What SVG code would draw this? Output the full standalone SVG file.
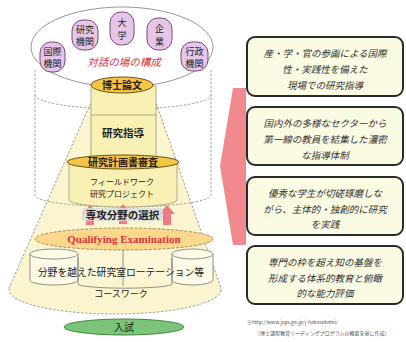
<svg xmlns="http://www.w3.org/2000/svg" width="406" height="342" viewBox="0 0 406 342">
<style>
.jp{font-family:"Noto Sans CJK JP","Noto Sans CJK SC",sans-serif;text-anchor:middle;fill:#222}
.dash{fill:none;stroke:#8a8a8a;stroke-width:0.8;stroke-dasharray:2.5 1.5}
.org{fill:#e6c6e6;stroke:#7a4a7a;stroke-width:1}
.gold{fill:#f4c445;stroke:#6a5418;stroke-width:1}
.box{fill:#fbfbe4;stroke:#2a2a2a;stroke-width:2}
.bt{font-family:"Noto Sans CJK JP",sans-serif;font-size:9.5px;font-style:italic;text-anchor:middle;fill:#333}
.yel{fill:#fbf5cf}
.col{fill:#f9f0b4;stroke:#9a9a7a;stroke-width:0.8}
.arr{fill:#f07a84}
</style>
<rect width="406" height="342" fill="#ffffff"/>

<!-- cone base -->
<g id="coursework">
<ellipse cx="115" cy="290" rx="106" ry="24" class="yel" stroke="#8a8a8a" stroke-width="0.8" stroke-dasharray="2.5 1.5"/>
<path d="M92 100 L155 100 L221 288 L9 288 Z" class="yel"/>
<path d="M92 100 L9 288 M155 100 L221 288" class="dash"/>
</g>

<!-- outer cylinder -->
<g id="cylinder">
<path d="M35 70 L35 195 A88 12 0 0 0 211 195 L211 70" class="dash"/>
<path d="M35 95 A88 14 0 0 0 211 95" class="dash"/>
</g>

<!-- top ellipse with organisations -->
<g id="dialogue">
<ellipse cx="122" cy="47" rx="91" ry="40" fill="#ffffff" stroke="#8a8a8a" stroke-width="0.9"/>
<text x="124" y="66" class="jp" style="font-size:10.5px;font-style:italic;fill:#e0303a">対話の場の構成</text>
</g>
<g id="org-kokusai"><rect x="40" y="42" width="25" height="30" rx="11" class="org"/><text x="52.5" y="55" class="jp" font-size="9">国際</text><text x="52.5" y="67" class="jp" font-size="9">機関</text></g>
<g id="org-kenkyu"><rect x="72" y="20" width="26" height="30" rx="11" class="org"/><text x="85" y="33" class="jp" font-size="9">研究</text><text x="85" y="45" class="jp" font-size="9">機関</text></g>
<g id="org-daigaku"><rect x="110" y="12" width="24" height="33" rx="11" class="org"/><text x="122" y="26" class="jp" font-size="9">大</text><text x="122" y="39" class="jp" font-size="9">学</text></g>
<g id="org-kigyo"><rect x="147" y="18" width="25" height="32" rx="11" class="org"/><text x="159.5" y="32" class="jp" font-size="9">企</text><text x="159.5" y="45" class="jp" font-size="9">業</text></g>
<g id="org-gyosei"><rect x="181" y="42" width="27" height="29" rx="11" class="org"/><text x="194.5" y="55" class="jp" font-size="9">行政</text><text x="194.5" y="67" class="jp" font-size="9">機関</text></g>

<!-- central column -->
<g id="shido">
<rect x="91" y="86" width="65" height="76" class="col"/>
<line x1="91" y1="115" x2="156" y2="115" stroke="#9a9a7a" stroke-width="0.8"/>
<text x="123" y="137" class="jp" font-size="10.5" font-weight="bold">研究指導</text>
</g>
<g id="fieldwork">
<path d="M69 162 L69 200 A54 7 0 0 0 177 200 L177 162 Z" class="col"/>
<text x="122" y="185" class="jp" font-size="8">フィールドワーク</text>
<text x="122" y="197" class="jp" font-size="8">研究プロジェクト</text>
</g>
<g id="hakase">
<ellipse cx="122" cy="85" rx="31" ry="8" class="gold"/>
<text x="122" y="89" class="jp" font-size="10" font-weight="bold">博士論文</text>
</g>
<g id="keikaku">
<ellipse cx="123" cy="162" rx="56" ry="7" class="gold"/>
<text x="123" y="166" class="jp" font-size="10" font-weight="bold">研究計画書審査</text>
</g>

<!-- arrows up -->
<g id="connectors">
<path d="M86 225 L86 214 L82 214 L90 205 L98 214 L94 214 L94 225 Z" class="arr"/>
<path d="M119 224 L119 213 L115 213 L123 204 L131 213 L127 213 L127 224 Z" class="arr"/>
<path d="M163 225 L163 214 L159 214 L167 205 L175 214 L171 214 L171 225 Z" class="arr"/>
<path d="M233 88 L246 88 L246 245 L233 245 L220 166 Z" fill="#f08a8e"/>
</g>
<g id="senko">
<rect x="82" y="208" width="81" height="13" fill="#dcdcdc" opacity="0.85"/>
<text x="122.5" y="218.5" class="jp" font-size="10.5" font-weight="bold">専攻分野の選択</text>
</g>

<!-- rotation band -->
<g id="rotation">
<rect x="30" y="250" width="183" height="32" fill="#fbf6d6"/>
<path d="M30 254 L30 280 A24 5 0 0 0 78 280 L78 254" fill="#fdfae6" stroke="#777" stroke-width="0.8"/>
<ellipse cx="54" cy="254" rx="24" ry="5" fill="#fdfae6" stroke="#777" stroke-width="0.8"/>
<path d="M172 254 L172 280 A20.5 5 0 0 0 213 280 L213 254" fill="#fdfae6" stroke="#777" stroke-width="0.8"/>
<ellipse cx="192.5" cy="254" rx="20.5" ry="5" fill="#fdfae6" stroke="#777" stroke-width="0.8"/>
<path d="M78 258 L78 284 M123 245 L123 286 M172 258 L172 284 M78 284 A45 4 0 0 0 172 284" fill="none" stroke="#777" stroke-width="0.8"/>
<text x="121" y="276" class="jp" font-size="9.8">分野を越えた研究室ローテーション等</text>
</g>
<g id="qe">
<ellipse cx="124" cy="239" rx="89" ry="11" fill="#fbd88c" stroke="#8a7a4a" stroke-width="0.8" stroke-dasharray="3 1.5"/>
<text x="124" y="243" font-family="Liberation Serif,serif" font-size="11" font-weight="bold" text-anchor="middle" fill="#e8323a">Qualifying Examination</text>
</g>
<text x="121" y="297" class="jp" font-size="9">コースワーク</text>

<g id="nyushi">
<ellipse cx="124" cy="327" rx="60" ry="8" fill="#7cc47a" stroke="#3f8a3f" stroke-width="1"/>
<text x="124" y="331" class="jp" font-size="10">入試</text>
</g>

<!-- right boxes -->
<g id="box1">
<rect x="247" y="37" width="156" height="59" rx="8" class="box"/>
<text x="325" y="57" class="bt">産・学・官の参画による国際</text>
<text x="325" y="73" class="bt">性・実践性を備えた</text>
<text x="325" y="89" class="bt">現場での研究指導</text>
</g>
<g id="box2">
<rect x="247" y="107" width="156" height="58" rx="8" class="box"/>
<text x="325" y="127" class="bt">国内外の多様なセクターから</text>
<text x="325" y="143" class="bt">第一線の教員を結集した濃密</text>
<text x="325" y="159" class="bt">な指導体制</text>
</g>
<g id="box3">
<rect x="247" y="177" width="156" height="58" rx="8" class="box"/>
<text x="325" y="197" class="bt">優秀な学生が切磋琢磨しな</text>
<text x="325" y="213" class="bt">がら、主体的・独創的に研究</text>
<text x="325" y="228" class="bt">を実践</text>
</g>
<g id="box4">
<rect x="247" y="246" width="156" height="58" rx="8" class="box"/>
<text x="325" y="266" class="bt">専門の枠を超え知の基盤を</text>
<text x="325" y="282" class="bt">形成する体系的教育と俯瞰</text>
<text x="325" y="297" class="bt">的な能力評価</text>
</g>

<g id="note" font-family="Noto Sans CJK JP,sans-serif" font-size="5" fill="#555">
<text x="247" y="324">※http://www.jsps.go.jp/j-hakasekatei/</text>
<text x="255" y="335">（博士課程教育リーディングプログラムの概要を基に作成）</text>
</g>
</svg>
